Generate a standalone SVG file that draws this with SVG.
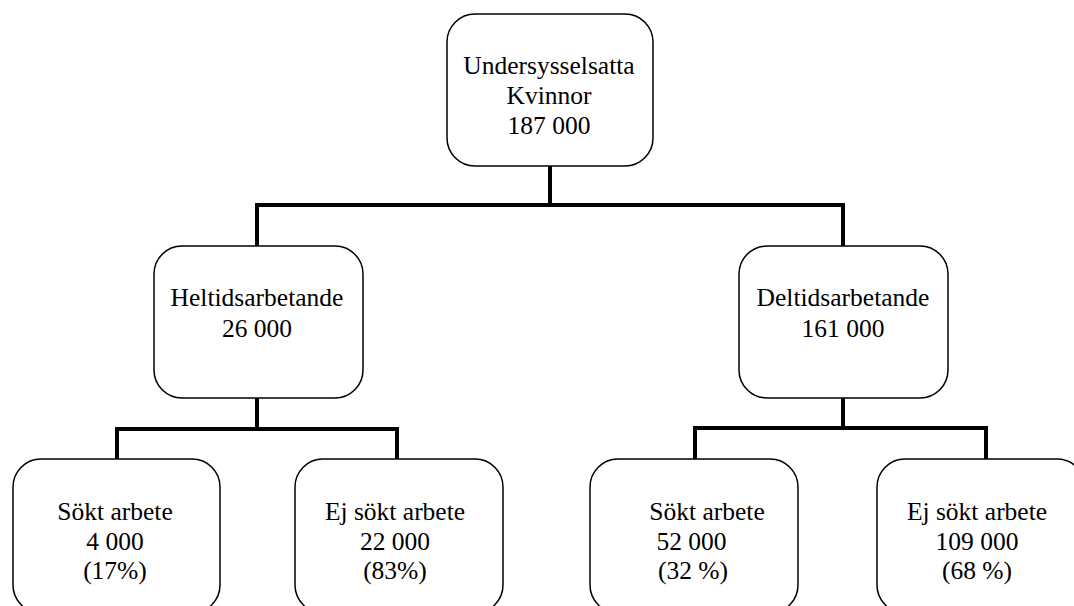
<svg xmlns="http://www.w3.org/2000/svg" width="1074" height="606" viewBox="0 0 1074 606">
<style>
.box{fill:#fff;stroke:#000;stroke-width:1.5}
.conn{fill:none;stroke:#000;stroke-width:4;stroke-linejoin:miter;stroke-linecap:square}
.t{font-family:'Liberation Serif','Tinos','Times New Roman','DejaVu Serif',serif;font-size:25.5px;fill:#000;text-anchor:middle}
</style>
<rect width="1074" height="606" fill="#fff"/>
<g id="connectors">
<path class="conn" d="M550,167 V205 M257,246 V205 H843 V246"/>
<path class="conn" d="M257,399 V429 M117,459 V429 H397 V459"/>
<path class="conn" d="M843,399 V428 M695,459 V428 H986 V459"/>
</g>
<g id="n-root" class="t">
<rect class="box" x="447" y="14" width="206" height="152" rx="28"/>
<text x="549" y="74">Undersysselsatta</text>
<text x="549" y="104">Kvinnor</text>
<text x="549" y="134">187 000</text>
</g>
<g id="n-heltid" class="t">
<rect class="box" x="154" y="246" width="209" height="152" rx="28"/>
<text x="257" y="306">Heltidsarbetande</text>
<text x="257" y="337">26 000</text>
</g>
<g id="n-deltid" class="t">
<rect class="box" x="739" y="246" width="209" height="152" rx="28"/>
<text x="843" y="306">Deltidsarbetande</text>
<text x="843" y="337">161 000</text>
</g>
<g id="n-h-sokt" class="t">
<rect class="box" x="13" y="459" width="207" height="154" rx="28"/>
<text x="115" y="520">Sökt arbete</text>
<text x="115" y="550">4 000</text>
<text x="115" y="579">(17%)</text>
</g>
<g id="n-h-ejsokt" class="t">
<rect class="box" x="295" y="459" width="208" height="154" rx="28"/>
<text x="395" y="520">Ej sökt arbete</text>
<text x="395" y="550">22 000</text>
<text x="395" y="579">(83%)</text>
</g>
<g id="n-d-sokt" class="t">
<rect class="box" x="590" y="459" width="208" height="154" rx="28"/>
<text x="707" y="520">Sökt arbete</text>
<text x="691.5" y="550">52 000</text>
<text x="693" y="579">(32 %)</text>
</g>
<g id="n-d-ejsokt" class="t">
<rect class="box" x="877" y="459" width="208" height="154" rx="28"/>
<text x="977" y="520">Ej sökt arbete</text>
<text x="977" y="550">109 000</text>
<text x="977" y="579">(68 %)</text>
</g>
</svg>
